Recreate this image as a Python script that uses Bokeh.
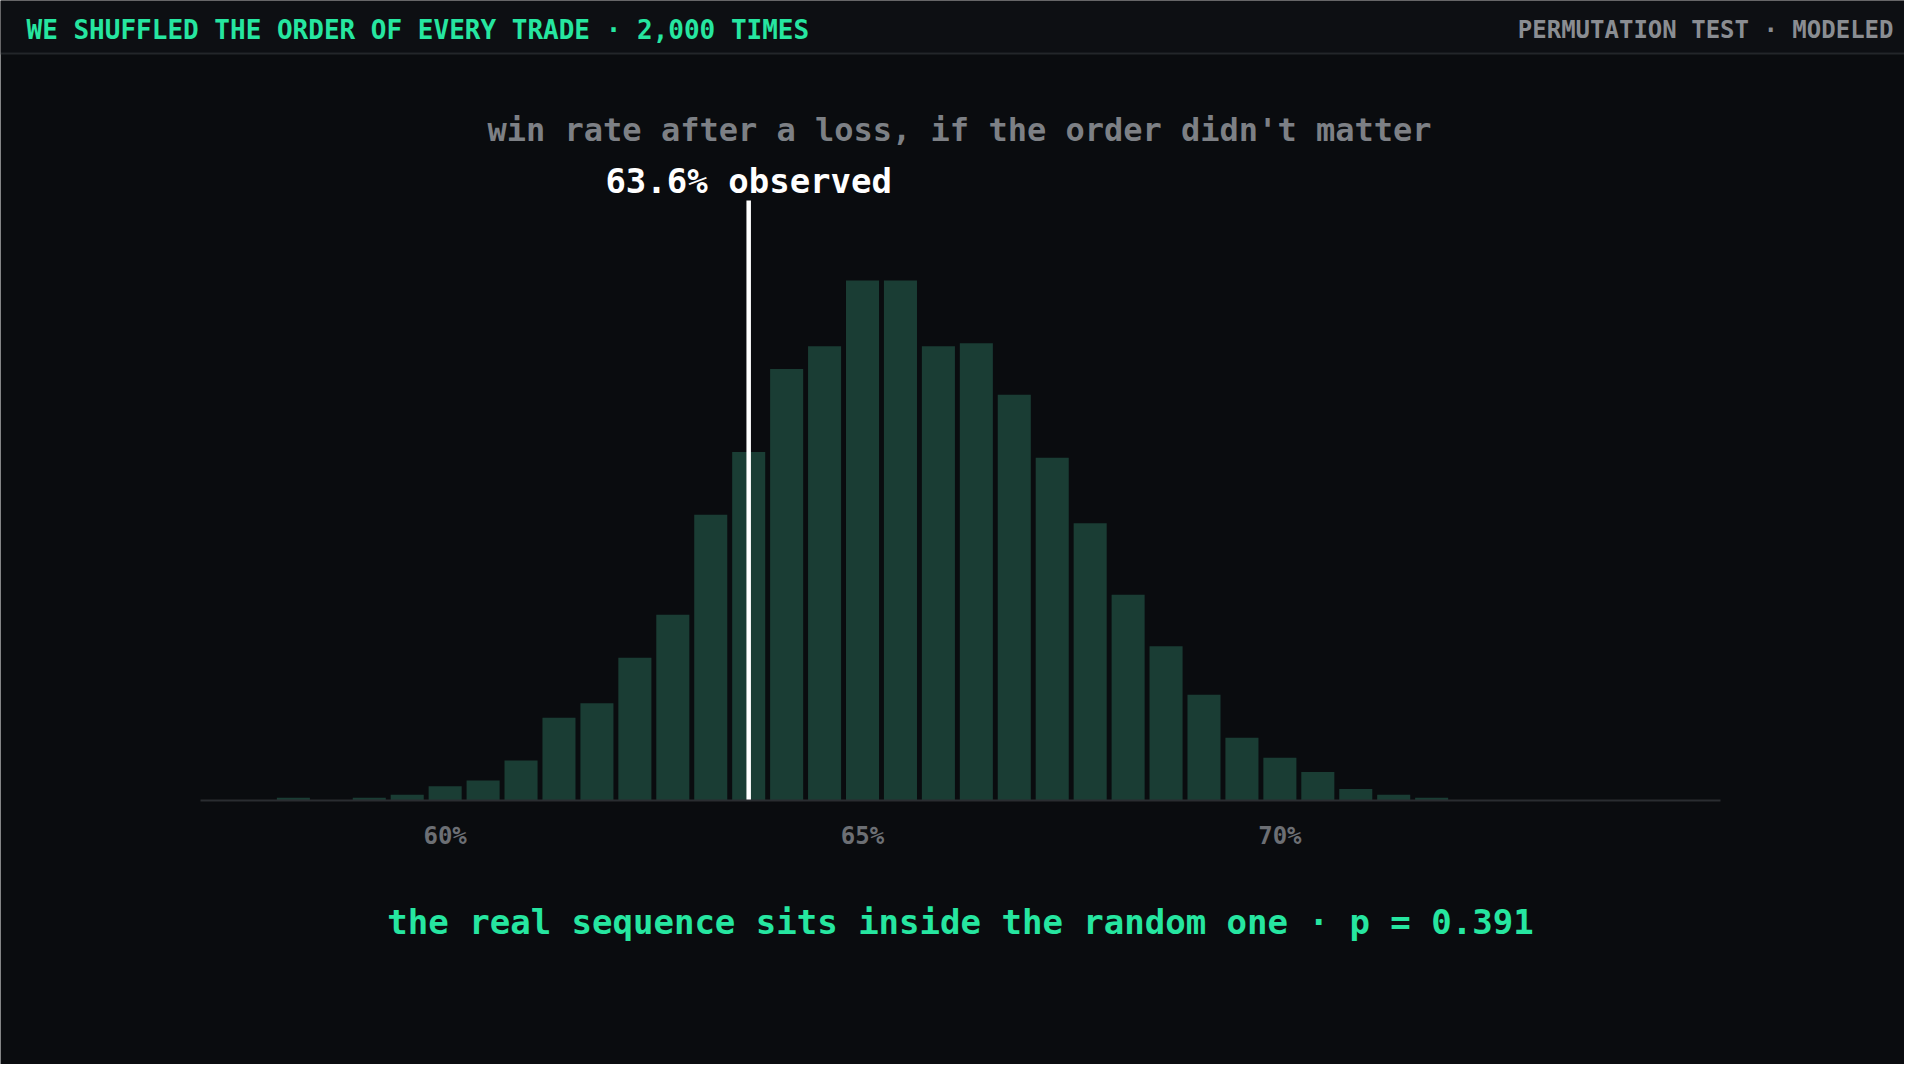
# permutation test histogram - shuffled trade order
from bokeh.plotting import figure
from bokeh.models import Label, FixedTicker, PrintfTickFormatter, Range1d
from bokeh.embed import file_html
from bokeh.resources import INLINE

## ----- DATA ----- ##
LOSSES        = 220    # trades that follow a loss
OBSERVED_WINS = 140    # 140 / 220 = 63.6%
P_VALUE       = 0.391
N_SHUFFLES    = 2000

wins_after_loss = [128, 129, 130, 131, 132, 133, 134, 135, 136, 137, 138,
                   139, 140, 141, 142, 143, 144, 145, 146, 147, 148, 149,
                   150, 151, 152, 153, 154, 155, 156, 157, 158]
shuffle_counts  = [1, 0, 1, 2, 5, 7, 14, 29, 34, 50, 65,
                   100, 122, 151, 159, 182, 182, 159, 160, 142, 120, 97,
                   72, 54, 37, 22, 15, 10, 4, 2, 1]
tick_values = [60, 65, 70]
axis_bounds = (57.07, 75.28)

## ----- STYLE ----- ##
BG        = '#0a0c0f'
HEADER_BG = '#0d0f13'
RULE      = '#23262a'
GREEN     = '#26e6a0'
BAR       = '#1a3d34'
GREY      = '#8a8d92'
MONO      = 'DejaVu Sans Mono'

W, H = 1904, 1064
# whole canvas is the frame; 83.47 px per percent, 2.857 px per shuffle, baseline at 800 px
XA, XB = 54.673, 77.483
YA, YB = -92.4, 280.0

def px_x(fx):
    return XA + fx * (XB - XA) / W

def px_y(fy):
    return YB - fy * (YB - YA) / H

rates = [k / LOSSES * 100 for k in wins_after_loss]
observed = OBSERVED_WINS / LOSSES * 100

p = figure(width=W, height=H, output_backend="svg", toolbar_location=None,
           x_range=Range1d(XA, XB), y_range=Range1d(YA, YB), min_border=0)
p.background_fill_color = BG
p.border_fill_color = BG
p.outline_line_color = None
p.grid.visible = False
p.yaxis.visible = False

# header band + rule
p.quad(left=[XA], right=[XB], bottom=[px_y(52)], top=[YB], fill_color=HEADER_BG, line_color=None)
p.quad(left=[XA], right=[XB], bottom=[px_y(54)], top=[px_y(52)], fill_color=RULE, line_color=None)

p.vbar(x=rates, top=shuffle_counts, width=0.396, bottom=0, fill_color=BAR, line_color=None)

p.segment(x0=[observed], x1=[observed], y0=[0], y1=[px_y(200)], line_color='white', line_width=4.5)

p.xaxis.fixed_location = 0
p.xaxis.bounds = axis_bounds
p.xaxis.ticker = FixedTicker(ticks=tick_values)
p.xaxis.formatter = PrintfTickFormatter(format="%d%%")
p.xaxis.axis_line_color = '#2a2d31'
p.xaxis.axis_line_width = 2
p.xaxis.major_tick_line_color = None
p.xaxis.minor_tick_line_color = None
p.xaxis.major_tick_out = 0
p.xaxis.major_tick_in = 0
p.xaxis.major_label_standoff = 21
p.xaxis.major_label_text_font = MONO
p.xaxis.major_label_text_font_style = 'bold'
p.xaxis.major_label_text_font_size = '24px'
p.xaxis.major_label_text_color = '#6c6f74'

def add_text(x, y, txt, size, color, align='left'):
    p.add_layout(Label(x=x, y=y, text=txt, text_font=MONO, text_font_style='bold',
                       text_font_size=size, text_color=color, text_align=align,
                       text_baseline='middle'))

add_text(px_x(26), px_y(29), "WE SHUFFLED THE ORDER OF EVERY TRADE \u00b7 {:,} TIMES".format(N_SHUFFLES),
         '26px', GREEN)
add_text(px_x(1893), px_y(29), "PERMUTATION TEST \u00b7 MODELED", '24px', GREY, 'right')
add_text(px_x(959), px_y(129), "win rate after a loss, if the order didn't matter", '32px', '#7d8085', 'center')
add_text(observed, px_y(180), "{:.1f}% observed".format(observed), '34px', 'white', 'center')
add_text(px_x(960), px_y(921), "the real sequence sits inside the random one \u00b7 p = {}".format(P_VALUE),
         '34px', GREEN, 'center')

open("out.html", "w").write(file_html(p, INLINE))
